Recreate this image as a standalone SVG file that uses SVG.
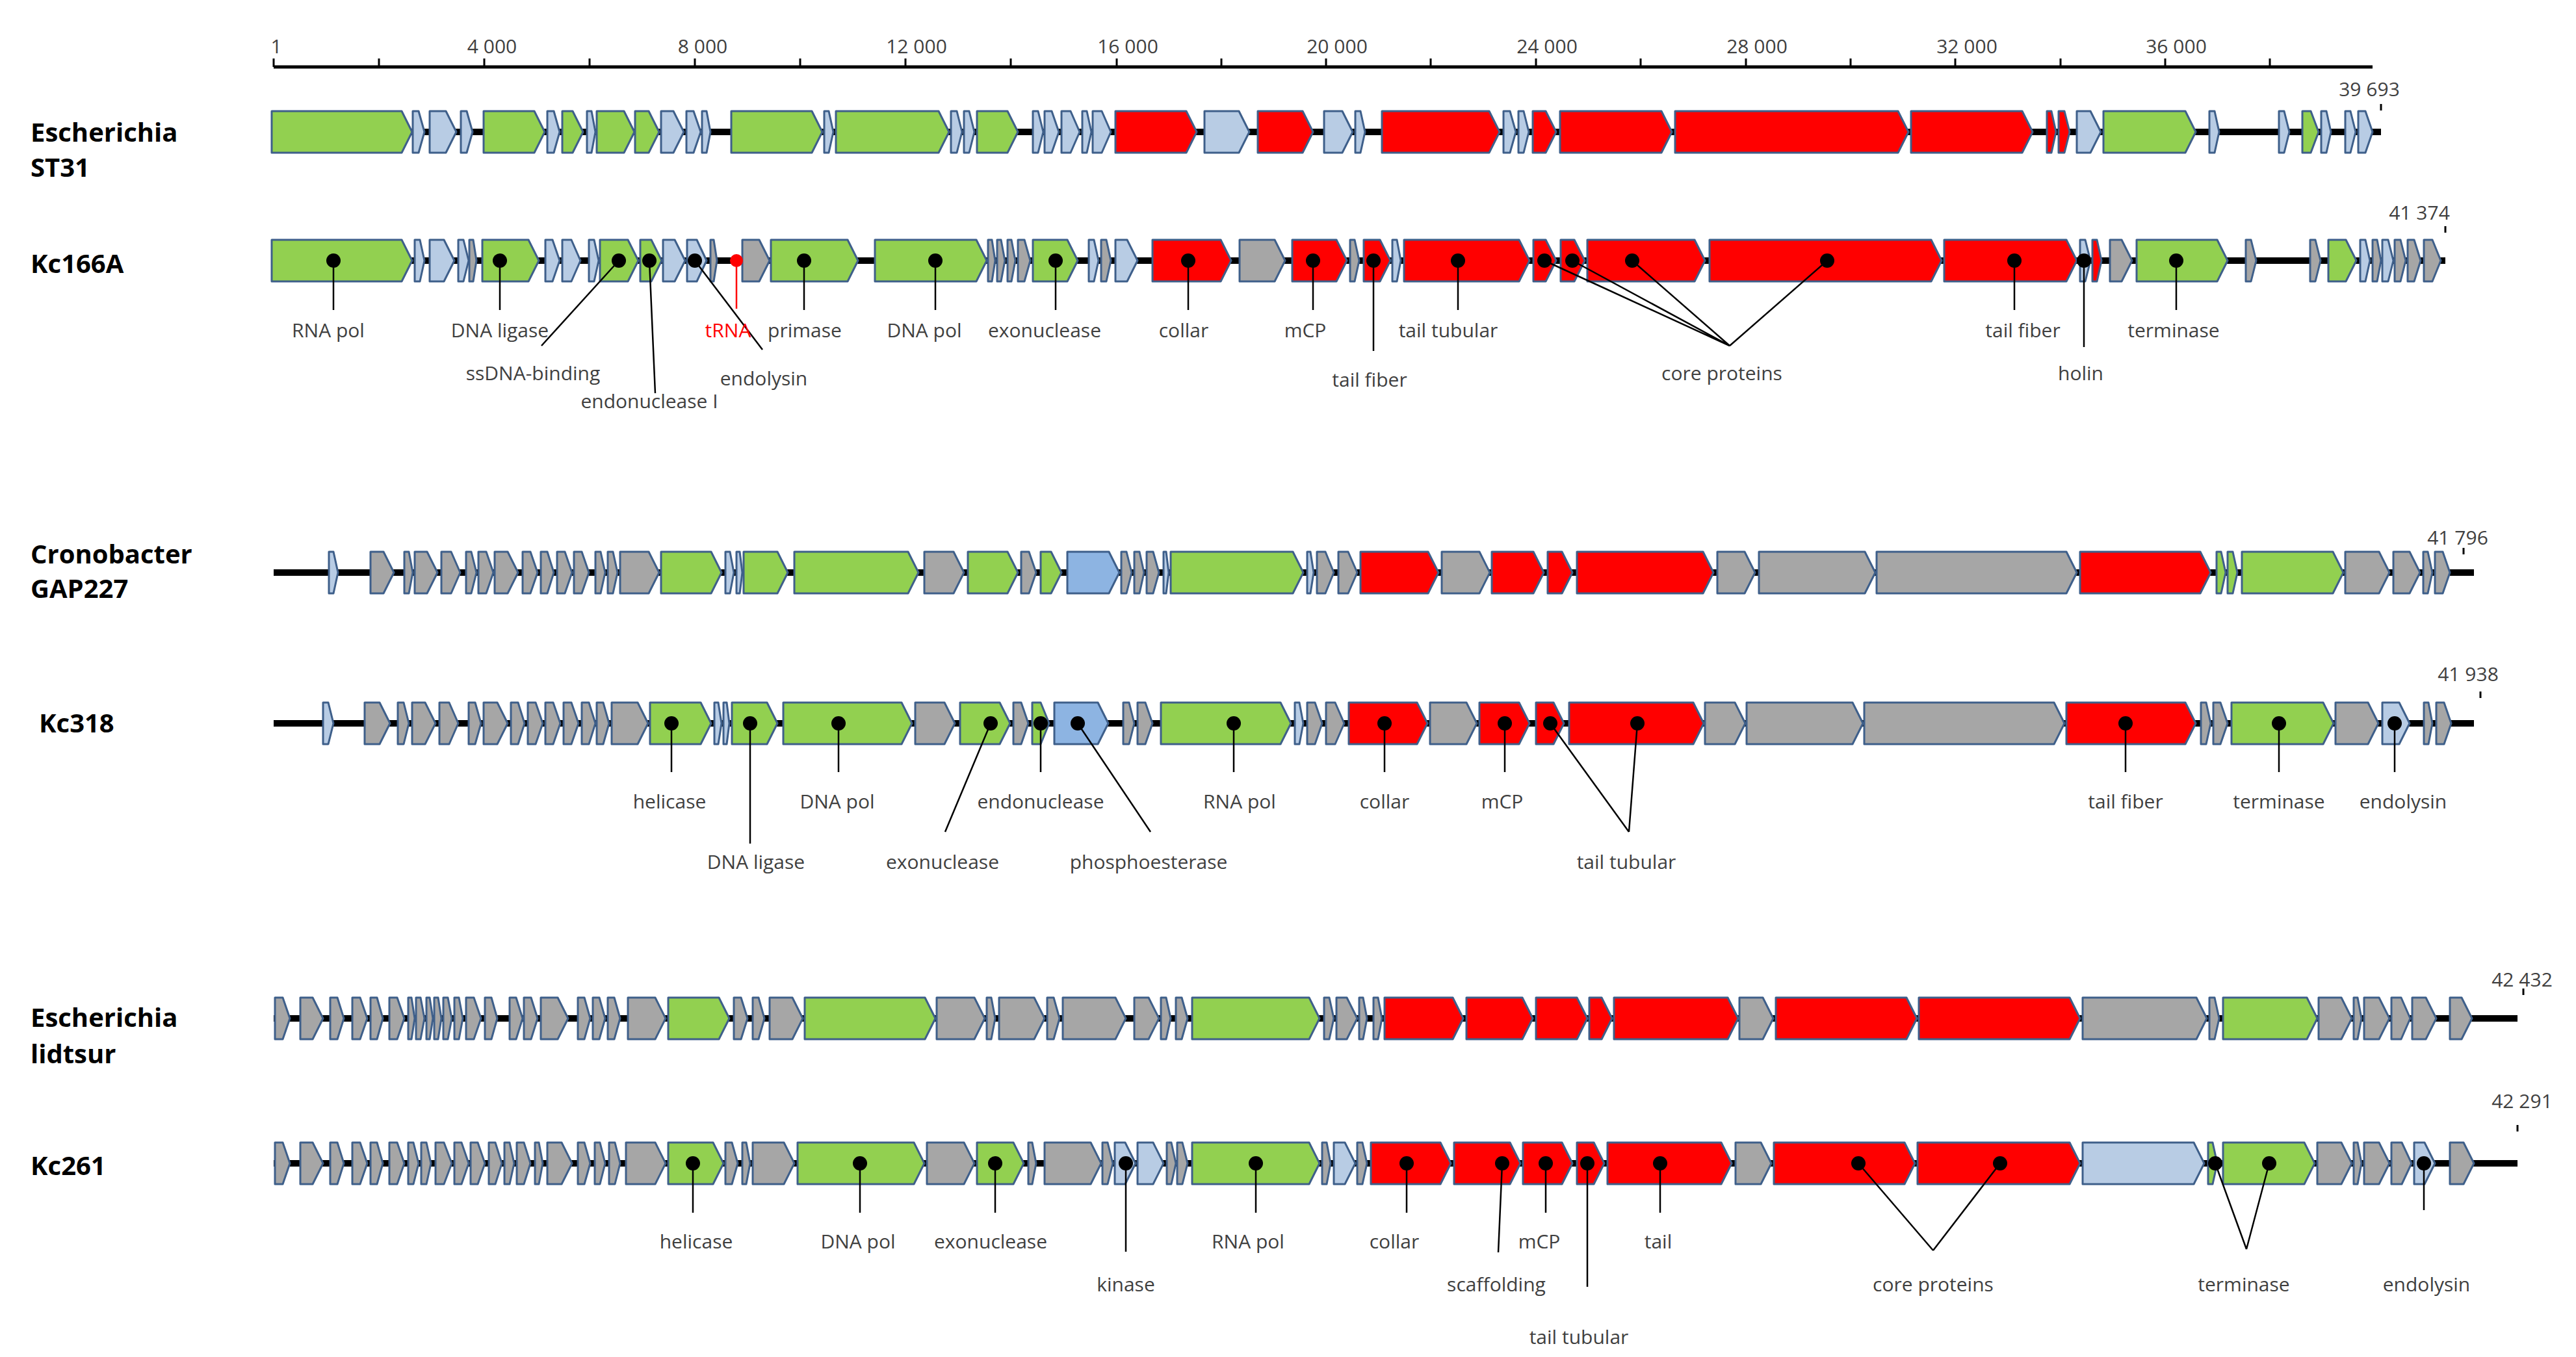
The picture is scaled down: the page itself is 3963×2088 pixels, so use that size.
<svg xmlns="http://www.w3.org/2000/svg" width="3963" height="2088" viewBox="0 0 3963 2088">
<style>
.g{fill:#92d050}.b{fill:#b8cce4}.r{fill:#ff0000}.y{fill:#a6a6a6}.m{fill:#8db4e2}
.genes path{stroke:#3e5f8a;stroke-width:3;stroke-linejoin:round}
.bb{stroke:#000;stroke-width:10}
.t{font-family:"Open Sans","Liberation Sans",sans-serif;font-size:30px;fill:#404040;text-anchor:middle}
.h{font-family:"Open Sans","Liberation Sans",sans-serif;font-size:40px;font-weight:bold;fill:#000}
.ln{stroke:#000;stroke-width:2.5;fill:none}
.d{fill:#000}
</style>
<rect width="3963" height="2088" fill="#fff"/>
<g id="axis">
<line x1="421" y1="103" x2="3650" y2="103" stroke="#000" stroke-width="5"/>
<path d="M421 90V103M583 90V103M745 90V103M907 90V103M1069 90V103M1231 90V103M1393 90V103M1555 90V103M1718 90V103M1879 90V103M2040 90V103M2201 90V103M2363 90V103M2524 90V103M2686 90V103M2847 90V103M3008 90V103M3170 90V103M3331 90V103M3492 90V103" stroke="#000" stroke-width="3"/>
<text class="t" x="425" y="82">1</text><text class="t" x="757" y="82">4 000</text><text class="t" x="1081" y="82">8 000</text><text class="t" x="1410" y="82">12 000</text><text class="t" x="1735" y="82">16 000</text><text class="t" x="2057" y="82">20 000</text><text class="t" x="2380" y="82">24 000</text><text class="t" x="2703" y="82">28 000</text><text class="t" x="3026" y="82">32 000</text><text class="t" x="3348" y="82">36 000</text>
</g>
<g id="titles">
<text class="h" x="47" y="218">Escherichia</text><text class="h" x="47" y="272">ST31</text>
<text class="h" x="47" y="420">Kc166A</text>
<text class="h" x="47" y="867">Cronobacter</text><text class="h" x="47" y="920">GAP227</text>
<text class="h" x="60" y="1127">Kc318</text>
<text class="h" x="47" y="1580">Escherichia</text><text class="h" x="47" y="1636">lidtsur</text>
<text class="h" x="47" y="1808">Kc261</text>
</g>
<g id="ends">
<text class="t" x="3645" y="148">39 693</text><line x1="3663" y1="160" x2="3663" y2="170" stroke="#000" stroke-width="3"/>
<text class="t" x="3722" y="338">41 374</text><line x1="3762" y1="348" x2="3762" y2="358" stroke="#000" stroke-width="3"/>
<text class="t" x="3781" y="838">41 796</text><line x1="3790" y1="843" x2="3790" y2="853" stroke="#000" stroke-width="3"/>
<text class="t" x="3797" y="1048">41 938</text><line x1="3816" y1="1064" x2="3816" y2="1074" stroke="#000" stroke-width="3"/>
<text class="t" x="3880" y="1518">42 432</text><line x1="3882" y1="1521" x2="3882" y2="1531" stroke="#000" stroke-width="3"/>
<text class="t" x="3880" y="1705">42 291</text><line x1="3873" y1="1731" x2="3873" y2="1741" stroke="#000" stroke-width="3"/>
</g>
<g id="ST31" class="genes">
<line class="bb" x1="418" y1="203" x2="3663" y2="203"/>
<path class="g" d="M418 171H618l16 32-16 32H418z"/><path class="b" d="M635 171H644l9 32-9 32H635z"/><path class="b" d="M661 171H686l16 32-16 32H661z"/><path class="b" d="M709 171H718l9 32-9 32H709z"/><path class="g" d="M744 171H822l16 32-16 32H744z"/><path class="b" d="M842 171H852l9 32-9 32H842z"/><path class="g" d="M865 171H881l16 32-16 32H865z"/><path class="b" d="M903 171H910l6 32-6 32H903z"/><path class="g" d="M918 171H960l16 32-16 32H918z"/><path class="g" d="M977 171H998l16 32-16 32H977z"/><path class="b" d="M1017 171H1036l16 32-16 32H1017z"/><path class="b" d="M1056 171H1067l11 32-11 32H1056z"/><path class="b" d="M1080 171H1087l6 32-6 32H1080z"/><path class="g" d="M1125 171H1249l16 32-16 32H1125z"/><path class="b" d="M1268 171H1275l7 32-7 32H1268z"/><path class="g" d="M1286 171H1444l16 32-16 32H1286z"/><path class="b" d="M1463 171H1472l8 32-8 32H1463z"/><path class="b" d="M1483 171H1491l8 32-8 32H1483z"/><path class="g" d="M1503 171H1550l16 32-16 32H1503z"/><path class="b" d="M1589 171H1597l8 32-8 32H1589z"/><path class="b" d="M1607 171H1618l11 32-11 32H1607z"/><path class="b" d="M1633 171H1647l14 32-14 32H1633z"/><path class="b" d="M1665 171H1672l7 32-7 32H1665z"/><path class="b" d="M1681 171H1695l14 32-14 32H1681z"/><path class="r" d="M1716 171H1825l16 32-16 32H1716z"/><path class="b" d="M1853 171H1906l16 32-16 32H1853z"/><path class="r" d="M1935 171H2004l16 32-16 32H1935z"/><path class="b" d="M2037 171H2065l16 32-16 32H2037z"/><path class="b" d="M2085 171H2093l7 32-7 32H2085z"/><path class="r" d="M2126 171H2291l16 32-16 32H2126z"/><path class="b" d="M2313 171H2323l9 32-9 32H2313z"/><path class="b" d="M2336 171H2344l8 32-8 32H2336z"/><path class="r" d="M2358 171H2378l16 32-16 32H2358z"/><path class="r" d="M2400 171H2556l16 32-16 32H2400z"/><path class="r" d="M2577 171H2920l16 32-16 32H2577z"/><path class="r" d="M2940 171H3111l16 32-16 32H2940z"/><path class="r" d="M3149 171H3156l7 32-7 32H3149z"/><path class="r" d="M3167 171H3176l8 32-8 32H3167z"/><path class="b" d="M3195 171H3216l16 32-16 32H3195z"/><path class="g" d="M3236 171H3362l16 32-16 32H3236z"/><path class="b" d="M3399 171H3407l7 32-7 32H3399z"/><path class="b" d="M3506 171H3514l8 32-8 32H3506z"/><path class="g" d="M3542 171H3555l12 32-12 32H3542z"/><path class="b" d="M3571 171H3579l7 32-7 32H3571z"/><path class="b" d="M3608 171H3616l8 32-8 32H3608z"/><path class="b" d="M3628 171H3639l11 32-11 32H3628z"/>
</g>
<g id="Kc166A" class="genes">
<line class="bb" x1="418" y1="401" x2="3762" y2="401"/>
<path class="g" d="M418 369H618l16 32-16 32H418z"/><path class="b" d="M638 369H646l7 32-7 32H638z"/><path class="b" d="M661 369H683l16 32-16 32H661z"/><path class="b" d="M705 369H713l8 32-8 32H705z"/><path class="y" d="M722 369H728l5 32-5 32H722z"/><path class="g" d="M742 369H813l16 32-16 32H742z"/><path class="b" d="M839 369H850l11 32-11 32H839z"/><path class="b" d="M865 369H879l14 32-14 32H865z"/><path class="b" d="M906 369H914l7 32-7 32H906z"/><path class="g" d="M923 369H966l16 32-16 32H923z"/><path class="g" d="M985 369H1002l16 32-16 32H985z"/><path class="b" d="M1020 369H1038l16 32-16 32H1020z"/><path class="b" d="M1057 369H1072l15 32-15 32H1057z"/><path class="y" d="M1093 369H1098l5 32-5 32H1093z"/><path class="y" d="M1142 369H1168l16 32-16 32H1142z"/><path class="g" d="M1186 369H1304l16 32-16 32H1186z"/><path class="g" d="M1346 369H1502l16 32-16 32H1346z"/><path class="y" d="M1520 369H1526l5 32-5 32H1520z"/><path class="y" d="M1534 369H1540l6 32-6 32H1534z"/><path class="y" d="M1550 369H1556l6 32-6 32H1550z"/><path class="y" d="M1566 369H1576l9 32-9 32H1566z"/><path class="g" d="M1589 369H1642l16 32-16 32H1589z"/><path class="b" d="M1675 369H1683l7 32-7 32H1675z"/><path class="y" d="M1694 369H1702l7 32-7 32H1694z"/><path class="b" d="M1716 369H1734l16 32-16 32H1716z"/><path class="r" d="M1773 369H1878l16 32-16 32H1773z"/><path class="y" d="M1907 369H1961l16 32-16 32H1907z"/><path class="r" d="M1988 369H2056l16 32-16 32H1988z"/><path class="y" d="M2077 369H2084l7 32-7 32H2077z"/><path class="r" d="M2098 369H2123l16 32-16 32H2098z"/><path class="b" d="M2142 369H2149l6 32-6 32H2142z"/><path class="r" d="M2160 369H2337l16 32-16 32H2160z"/><path class="r" d="M2359 369H2378l16 32-16 32H2359z"/><path class="r" d="M2401 369H2422l16 32-16 32H2401z"/><path class="r" d="M2442 369H2607l16 32-16 32H2442z"/><path class="r" d="M2630 369H2971l16 32-16 32H2630z"/><path class="r" d="M2991 369H3179l16 32-16 32H2991z"/><path class="b" d="M3200 369H3208l8 32-8 32H3200z"/><path class="r" d="M3219 369H3226l7 32-7 32H3219z"/><path class="y" d="M3246 369H3264l16 32-16 32H3246z"/><path class="g" d="M3287 369H3411l16 32-16 32H3287z"/><path class="y" d="M3455 369H3463l8 32-8 32H3455z"/><path class="y" d="M3554 369H3562l8 32-8 32H3554z"/><path class="g" d="M3582 369H3609l16 32-16 32H3582z"/><path class="b" d="M3631 369H3639l7 32-7 32H3631z"/><path class="y" d="M3650 369H3657l6 32-6 32H3650z"/><path class="b" d="M3665 369H3674l8 32-8 32H3665z"/><path class="y" d="M3684 369H3693l8 32-8 32H3684z"/><path class="y" d="M3704 369H3714l10 32-10 32H3704z"/><path class="y" d="M3729 369H3742l13 32-13 32H3729z"/>
</g>
<g id="GAP227" class="genes">
<line class="bb" x1="421" y1="881" x2="3806" y2="881"/>
<path class="b" d="M506 849H513l7 32-7 32H506z"/><path class="y" d="M570 849H590l16 32-16 32H570z"/><path class="y" d="M622 849H629l6 32-6 32H622z"/><path class="y" d="M638 849H657l16 32-16 32H638z"/><path class="y" d="M679 849H694l14 32-14 32H679z"/><path class="y" d="M717 849H725l8 32-8 32H717z"/><path class="y" d="M736 849H748l11 32-11 32H736z"/><path class="y" d="M761 849H781l16 32-16 32H761z"/><path class="y" d="M804 849H816l11 32-11 32H804z"/><path class="y" d="M832 849H842l10 32-10 32H832z"/><path class="y" d="M857 849H869l11 32-11 32H857z"/><path class="y" d="M883 849H895l11 32-11 32H883z"/><path class="y" d="M916 849H924l7 32-7 32H916z"/><path class="y" d="M935 849H943l7 32-7 32H935z"/><path class="y" d="M954 849H998l16 32-16 32H954z"/><path class="g" d="M1017 849H1094l16 32-16 32H1017z"/><path class="b" d="M1116 849H1123l6 32-6 32H1116z"/><path class="b" d="M1133 849H1138l4 32-4 32H1133z"/><path class="g" d="M1144 849H1196l16 32-16 32H1144z"/><path class="g" d="M1222 849H1397l16 32-16 32H1222z"/><path class="y" d="M1422 849H1467l16 32-16 32H1422z"/><path class="g" d="M1489 849H1550l16 32-16 32H1489z"/><path class="y" d="M1571 849H1583l11 32-11 32H1571z"/><path class="g" d="M1601 849H1617l16 32-16 32H1601z"/><path class="m" d="M1642 849H1706l16 32-16 32H1642z"/><path class="y" d="M1725 849H1733l8 32-8 32H1725z"/><path class="y" d="M1745 849H1753l7 32-7 32H1745z"/><path class="y" d="M1764 849H1774l9 32-9 32H1764z"/><path class="b" d="M1790 849H1794l4 32-4 32H1790z"/><path class="g" d="M1801 849H1989l16 32-16 32H1801z"/><path class="b" d="M2011 849H2016l5 32-5 32H2011z"/><path class="y" d="M2026 849H2039l13 32-13 32H2026z"/><path class="y" d="M2059 849H2074l14 32-14 32H2059z"/><path class="r" d="M2093 849H2197l16 32-16 32H2093z"/><path class="y" d="M2218 849H2276l16 32-16 32H2218z"/><path class="r" d="M2295 849H2359l16 32-16 32H2295z"/><path class="r" d="M2381 849H2403l16 32-16 32H2381z"/><path class="r" d="M2426 849H2620l16 32-16 32H2426z"/><path class="y" d="M2642 849H2684l16 32-16 32H2642z"/><path class="y" d="M2706 849H2869l16 32-16 32H2706z"/><path class="y" d="M2887 849H3179l16 32-16 32H2887z"/><path class="r" d="M3200 849H3385l16 32-16 32H3200z"/><path class="g" d="M3410 849H3417l7 32-7 32H3410z"/><path class="g" d="M3427 849H3435l7 32-7 32H3427z"/><path class="g" d="M3449 849H3589l16 32-16 32H3449z"/><path class="y" d="M3608 849H3660l16 32-16 32H3608z"/><path class="y" d="M3682 849H3707l16 32-16 32H3682z"/><path class="y" d="M3728 849H3735l7 32-7 32H3728z"/><path class="y" d="M3746 849H3758l11 32-11 32H3746z"/>
</g>
<g id="Kc318" class="genes">
<line class="bb" x1="421" y1="1113" x2="3806" y2="1113"/>
<path class="b" d="M497 1081H505l8 32-8 32H497z"/><path class="y" d="M561 1081H584l16 32-16 32H561z"/><path class="y" d="M612 1081H621l8 32-8 32H612z"/><path class="y" d="M634 1081H654l16 32-16 32H634z"/><path class="y" d="M676 1081H691l14 32-14 32H676z"/><path class="y" d="M721 1081H731l9 32-9 32H721z"/><path class="y" d="M744 1081H765l16 32-16 32H744z"/><path class="y" d="M786 1081H797l10 32-10 32H786z"/><path class="y" d="M812 1081H824l11 32-11 32H812z"/><path class="y" d="M839 1081H851l11 32-11 32H839z"/><path class="y" d="M867 1081H879l11 32-11 32H867z"/><path class="y" d="M895 1081H906l10 32-10 32H895z"/><path class="y" d="M918 1081H928l9 32-9 32H918z"/><path class="y" d="M941 1081H981l16 32-16 32H941z"/><path class="g" d="M1000 1081H1078l16 32-16 32H1000z"/><path class="b" d="M1099 1081H1105l5 32-5 32H1099z"/><path class="b" d="M1113 1081H1118l4 32-4 32H1113z"/><path class="g" d="M1126 1081H1180l16 32-16 32H1126z"/><path class="g" d="M1205 1081H1387l16 32-16 32H1205z"/><path class="y" d="M1408 1081H1453l16 32-16 32H1408z"/><path class="g" d="M1477 1081H1538l16 32-16 32H1477z"/><path class="y" d="M1559 1081H1571l11 32-11 32H1559z"/><path class="g" d="M1588 1081H1601l13 32-13 32H1588z"/><path class="m" d="M1622 1081H1689l16 32-16 32H1622z"/><path class="y" d="M1728 1081H1737l8 32-8 32H1728z"/><path class="y" d="M1750 1081H1762l11 32-11 32H1750z"/><path class="g" d="M1786 1081H1970l16 32-16 32H1786z"/><path class="b" d="M1992 1081H1999l6 32-6 32H1992z"/><path class="y" d="M2011 1081H2023l11 32-11 32H2011z"/><path class="y" d="M2040 1081H2054l14 32-14 32H2040z"/><path class="r" d="M2075 1081H2180l16 32-16 32H2075z"/><path class="y" d="M2200 1081H2256l16 32-16 32H2200z"/><path class="r" d="M2276 1081H2337l16 32-16 32H2276z"/><path class="r" d="M2363 1081H2390l16 32-16 32H2363z"/><path class="r" d="M2414 1081H2605l16 32-16 32H2414z"/><path class="y" d="M2623 1081H2669l16 32-16 32H2623z"/><path class="y" d="M2687 1081H2850l16 32-16 32H2687z"/><path class="y" d="M2868 1081H3160l16 32-16 32H2868z"/><path class="r" d="M3179 1081H3362l16 32-16 32H3179z"/><path class="y" d="M3386 1081H3394l7 32-7 32H3386z"/><path class="y" d="M3405 1081H3416l11 32-11 32H3405z"/><path class="g" d="M3433 1081H3574l16 32-16 32H3433z"/><path class="y" d="M3593 1081H3643l16 32-16 32H3593z"/><path class="b" d="M3665 1081H3691l16 32-16 32H3665z"/><path class="y" d="M3729 1081H3736l6 32-6 32H3729z"/><path class="y" d="M3748 1081H3760l11 32-11 32H3748z"/>
</g>
<g id="lidtsur" class="genes">
<line class="bb" x1="421" y1="1567" x2="3873" y2="1567"/>
<path class="y" d="M423 1535H435l11 32-11 32H423z"/><path class="y" d="M462 1535H481l16 32-16 32H462z"/><path class="y" d="M508 1535H519l10 32-10 32H508z"/><path class="y" d="M542 1535H554l11 32-11 32H542z"/><path class="y" d="M570 1535H580l9 32-9 32H570z"/><path class="y" d="M599 1535H611l11 32-11 32H599z"/><path class="y" d="M628 1535H633l5 32-5 32H628z"/><path class="y" d="M640 1535H647l6 32-6 32H640z"/><path class="y" d="M656 1535H661l5 32-5 32H656z"/><path class="y" d="M668 1535H674l5 32-5 32H668z"/><path class="y" d="M682 1535H689l6 32-6 32H682z"/><path class="y" d="M699 1535H706l6 32-6 32H699z"/><path class="y" d="M717 1535H729l11 32-11 32H717z"/><path class="y" d="M746 1535H756l9 32-9 32H746z"/><path class="y" d="M784 1535H794l10 32-10 32H784z"/><path class="y" d="M806 1535H817l10 32-10 32H806z"/><path class="y" d="M832 1535H858l16 32-16 32H832z"/><path class="y" d="M889 1535H899l9 32-9 32H889z"/><path class="y" d="M912 1535H922l9 32-9 32H912z"/><path class="y" d="M935 1535H945l9 32-9 32H935z"/><path class="y" d="M966 1535H1008l16 32-16 32H966z"/><path class="g" d="M1028 1535H1106l16 32-16 32H1028z"/><path class="y" d="M1129 1535H1140l10 32-10 32H1129z"/><path class="y" d="M1158 1535H1167l9 32-9 32H1158z"/><path class="y" d="M1184 1535H1219l16 32-16 32H1184z"/><path class="g" d="M1238 1535H1423l16 32-16 32H1238z"/><path class="y" d="M1441 1535H1499l16 32-16 32H1441z"/><path class="y" d="M1518 1535H1525l6 32-6 32H1518z"/><path class="y" d="M1537 1535H1591l16 32-16 32H1537z"/><path class="y" d="M1611 1535H1621l9 32-9 32H1611z"/><path class="y" d="M1635 1535H1716l16 32-16 32H1635z"/><path class="y" d="M1745 1535H1767l16 32-16 32H1745z"/><path class="y" d="M1786 1535H1794l7 32-7 32H1786z"/><path class="y" d="M1809 1535H1818l9 32-9 32H1809z"/><path class="g" d="M1834 1535H2014l16 32-16 32H1834z"/><path class="y" d="M2037 1535H2045l7 32-7 32H2037z"/><path class="y" d="M2056 1535H2072l16 32-16 32H2056z"/><path class="y" d="M2091 1535H2097l6 32-6 32H2091z"/><path class="y" d="M2113 1535H2120l6 32-6 32H2113z"/><path class="r" d="M2130 1535H2235l16 32-16 32H2130z"/><path class="r" d="M2256 1535H2342l16 32-16 32H2256z"/><path class="r" d="M2363 1535H2426l16 32-16 32H2363z"/><path class="r" d="M2445 1535H2464l16 32-16 32H2445z"/><path class="r" d="M2483 1535H2658l16 32-16 32H2483z"/><path class="y" d="M2676 1535H2712l16 32-16 32H2676z"/><path class="r" d="M2732 1535H2933l16 32-16 32H2732z"/><path class="r" d="M2952 1535H3184l16 32-16 32H2952z"/><path class="y" d="M3204 1535H3379l16 32-16 32H3204z"/><path class="y" d="M3399 1535H3407l7 32-7 32H3399z"/><path class="g" d="M3420 1535H3549l16 32-16 32H3420z"/><path class="y" d="M3567 1535H3602l16 32-16 32H3567z"/><path class="y" d="M3621 1535H3627l6 32-6 32H3621z"/><path class="y" d="M3637 1535H3660l16 32-16 32H3637z"/><path class="y" d="M3679 1535H3694l14 32-14 32H3679z"/><path class="y" d="M3711 1535H3732l16 32-16 32H3711z"/><path class="y" d="M3769 1535H3787l16 32-16 32H3769z"/>
</g>
<g id="Kc261" class="genes">
<line class="bb" x1="421" y1="1790" x2="3873" y2="1790"/>
<path class="y" d="M423 1758H435l11 32-11 32H423z"/><path class="y" d="M462 1758H481l16 32-16 32H462z"/><path class="y" d="M508 1758H519l10 32-10 32H508z"/><path class="y" d="M542 1758H554l11 32-11 32H542z"/><path class="y" d="M570 1758H580l9 32-9 32H570z"/><path class="y" d="M599 1758H611l11 32-11 32H599z"/><path class="y" d="M628 1758H636l8 32-8 32H628z"/><path class="y" d="M648 1758H656l7 32-7 32H648z"/><path class="y" d="M670 1758H683l12 32-12 32H670z"/><path class="y" d="M699 1758H710l11 32-11 32H699z"/><path class="y" d="M724 1758H735l11 32-11 32H724z"/><path class="y" d="M752 1758H762l10 32-10 32H752z"/><path class="y" d="M776 1758H784l7 32-7 32H776z"/><path class="y" d="M795 1758H806l10 32-10 32H795z"/><path class="y" d="M823 1758H829l6 32-6 32H823z"/><path class="y" d="M842 1758H864l16 32-16 32H842z"/><path class="y" d="M889 1758H899l9 32-9 32H889z"/><path class="y" d="M915 1758H923l8 32-8 32H915z"/><path class="y" d="M937 1758H946l8 32-8 32H937z"/><path class="y" d="M963 1758H1008l16 32-16 32H963z"/><path class="g" d="M1028 1758H1097l16 32-16 32H1028z"/><path class="y" d="M1116 1758H1126l9 32-9 32H1116z"/><path class="y" d="M1142 1758H1148l6 32-6 32H1142z"/><path class="y" d="M1158 1758H1206l16 32-16 32H1158z"/><path class="g" d="M1227 1758H1406l16 32-16 32H1227z"/><path class="y" d="M1426 1758H1483l16 32-16 32H1426z"/><path class="g" d="M1503 1758H1559l16 32-16 32H1503z"/><path class="y" d="M1582 1758H1588l6 32-6 32H1582z"/><path class="y" d="M1607 1758H1678l16 32-16 32H1607z"/><path class="y" d="M1696 1758H1704l8 32-8 32H1696z"/><path class="b" d="M1715 1758H1731l16 32-16 32H1715z"/><path class="b" d="M1750 1758H1774l16 32-16 32H1750z"/><path class="y" d="M1795 1758H1802l7 32-7 32H1795z"/><path class="y" d="M1811 1758H1819l8 32-8 32H1811z"/><path class="g" d="M1834 1758H2014l16 32-16 32H1834z"/><path class="y" d="M2034 1758H2041l6 32-6 32H2034z"/><path class="b" d="M2052 1758H2069l16 32-16 32H2052z"/><path class="y" d="M2088 1758H2096l7 32-7 32H2088z"/><path class="r" d="M2109 1758H2216l16 32-16 32H2109z"/><path class="r" d="M2237 1758H2323l16 32-16 32H2237z"/><path class="r" d="M2343 1758H2403l16 32-16 32H2343z"/><path class="r" d="M2426 1758H2452l16 32-16 32H2426z"/><path class="r" d="M2473 1758H2648l16 32-16 32H2473z"/><path class="y" d="M2670 1758H2709l16 32-16 32H2670z"/><path class="r" d="M2729 1758H2930l16 32-16 32H2729z"/><path class="r" d="M2950 1758H3184l16 32-16 32H2950z"/><path class="b" d="M3204 1758H3375l16 32-16 32H3204z"/><path class="g" d="M3397 1758H3404l7 32-7 32H3397z"/><path class="g" d="M3420 1758H3545l16 32-16 32H3420z"/><path class="y" d="M3565 1758H3602l16 32-16 32H3565z"/><path class="y" d="M3621 1758H3627l6 32-6 32H3621z"/><path class="y" d="M3637 1758H3660l16 32-16 32H3637z"/><path class="y" d="M3679 1758H3695l15 32-15 32H3679z"/><path class="b" d="M3714 1758H3730l16 32-16 32H3714z"/><path class="y" d="M3769 1758H3790l16 32-16 32H3769z"/>
</g>
<g id="connectors">
<path class="ln" d="M513 401V477M769 401V477M952 401L833 532M999 401L1008 605M1069 401L1173 538M1237 401V477M1439 401V477M1624 401V477M1828 401V477M2020 401V477M2113 401V540M2243 401V477M2376 401L2661 532M2419 401L2661 532M2511 401L2661 532M2811 401L2661 532M3099 401V477M3206 401V534M3348 401V477"/>
<path d="M1133 401V475" stroke="#ff0000" stroke-width="2.5"/>
<path class="ln" d="M1033 1113V1188M1154 1113V1298M1290 1113V1188M1524 1113L1454 1280M1601 1113V1188M1658 1113L1770 1280M1898 1113V1188M2130 1113V1188M2315 1113V1188M2385 1113L2506 1280M2519 1113L2506 1280M3270 1113V1188M3506 1113V1188M3684 1113V1188"/>
<path class="ln" d="M1066 1790V1866M1323 1790V1866M1531 1790V1866M1732 1790V1926M1932 1790V1866M2164 1790V1866M2311 1790L2305 1927M2378 1790V1866M2442 1790V1980M2554 1790V1866M2859 1790L2974 1924M3077 1790L2974 1924M3408 1790L3456 1922M3491 1790L3456 1922M3729 1790V1862"/>
</g>
<g id="dots">
<g class="d"><circle cx="513" cy="401" r="11"/><circle cx="769" cy="401" r="11"/><circle cx="952" cy="401" r="11"/><circle cx="999" cy="401" r="11"/><circle cx="1069" cy="401" r="11"/><circle cx="1237" cy="401" r="11"/><circle cx="1439" cy="401" r="11"/><circle cx="1624" cy="401" r="11"/><circle cx="1828" cy="401" r="11"/><circle cx="2020" cy="401" r="11"/><circle cx="2113" cy="401" r="11"/><circle cx="2243" cy="401" r="11"/><circle cx="2376" cy="401" r="11"/><circle cx="2419" cy="401" r="11"/><circle cx="2511" cy="401" r="11"/><circle cx="2811" cy="401" r="11"/><circle cx="3099" cy="401" r="11"/><circle cx="3206" cy="401" r="11"/><circle cx="3348" cy="401" r="11"/>
<circle cx="1033" cy="1113" r="11"/><circle cx="1154" cy="1113" r="11"/><circle cx="1290" cy="1113" r="11"/><circle cx="1524" cy="1113" r="11"/><circle cx="1601" cy="1113" r="11"/><circle cx="1658" cy="1113" r="11"/><circle cx="1898" cy="1113" r="11"/><circle cx="2130" cy="1113" r="11"/><circle cx="2315" cy="1113" r="11"/><circle cx="2385" cy="1113" r="11"/><circle cx="2519" cy="1113" r="11"/><circle cx="3270" cy="1113" r="11"/><circle cx="3506" cy="1113" r="11"/><circle cx="3684" cy="1113" r="11"/>
<circle cx="1066" cy="1790" r="11"/><circle cx="1323" cy="1790" r="11"/><circle cx="1531" cy="1790" r="11"/><circle cx="1732" cy="1790" r="11"/><circle cx="1932" cy="1790" r="11"/><circle cx="2164" cy="1790" r="11"/><circle cx="2311" cy="1790" r="11"/><circle cx="2378" cy="1790" r="11"/><circle cx="2442" cy="1790" r="11"/><circle cx="2554" cy="1790" r="11"/><circle cx="2859" cy="1790" r="11"/><circle cx="3077" cy="1790" r="11"/><circle cx="3408" cy="1790" r="11"/><circle cx="3491" cy="1790" r="11"/><circle cx="3729" cy="1790" r="11"/></g>
<circle cx="1133" cy="401" r="10" fill="#ff0000"/>
</g>
<g id="labels">
<text class="t" x="505" y="519">RNA pol</text><text class="t" x="769" y="519">DNA ligase</text><text class="t" x="820" y="585">ssDNA-binding</text><text class="t" x="999" y="628">endonuclease I</text><text class="t" x="1175" y="593">endolysin</text><text class="t" x="1120" y="519" style="fill:#ff0000">tRNA</text><text class="t" x="1238" y="519">primase</text><text class="t" x="1422" y="519">DNA pol</text><text class="t" x="1607" y="519">exonuclease</text><text class="t" x="1821" y="519">collar</text><text class="t" x="2008" y="519">mCP</text><text class="t" x="2107" y="595">tail fiber</text><text class="t" x="2228" y="519">tail tubular</text><text class="t" x="2649" y="585">core proteins</text><text class="t" x="3112" y="519">tail fiber</text><text class="t" x="3201" y="585">holin</text><text class="t" x="3344" y="519">terminase</text>
<text class="t" x="1030" y="1244">helicase</text><text class="t" x="1163" y="1337">DNA ligase</text><text class="t" x="1288" y="1244">DNA pol</text><text class="t" x="1450" y="1337">exonuclease</text><text class="t" x="1601" y="1244">endonuclease</text><text class="t" x="1767" y="1337">phosphoesterase</text><text class="t" x="1907" y="1244">RNA pol</text><text class="t" x="2130" y="1244">collar</text><text class="t" x="2311" y="1244">mCP</text><text class="t" x="2502" y="1337">tail tubular</text><text class="t" x="3270" y="1244">tail fiber</text><text class="t" x="3506" y="1244">terminase</text><text class="t" x="3697" y="1244">endolysin</text>
<text class="t" x="1071" y="1921">helicase</text><text class="t" x="1320" y="1921">DNA pol</text><text class="t" x="1524" y="1921">exonuclease</text><text class="t" x="1732" y="1987">kinase</text><text class="t" x="1920" y="1921">RNA pol</text><text class="t" x="2145" y="1921">collar</text><text class="t" x="2302" y="1987">scaffolding</text><text class="t" x="2368" y="1921">mCP</text><text class="t" x="2429" y="2068">tail tubular</text><text class="t" x="2551" y="1921">tail</text><text class="t" x="2974" y="1987">core proteins</text><text class="t" x="3452" y="1987">terminase</text><text class="t" x="3733" y="1987">endolysin</text>
</g>
</svg>
